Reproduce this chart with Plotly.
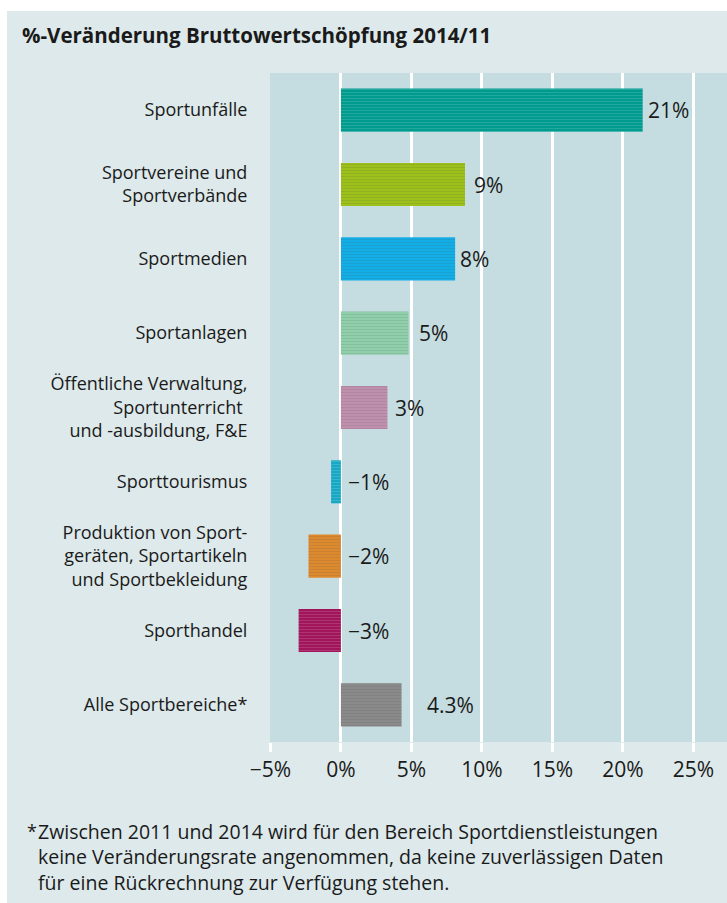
import plotly.graph_objects as go

categories = [
    "Sportunfälle",
    "Sportvereine und<br>Sportverbände",
    "Sportmedien",
    "Sportanlagen",
    "Öffentliche Verwaltung,<br>Sportunterricht <br>und -ausbildung, F&E",
    "Sporttourismus",
    "Produktion von Sport-<br>geräten, Sportartikeln<br>und Sportbekleidung",
    "Sporthandel",
    "Alle Sportbereiche*",
]
values = [21.4, 8.8, 8.1, 4.8, 3.3, -0.7, -2.3, -3.0, 4.3]
value_labels = ["21%", "9%", "8%", "5%", "3%", "\u22121%", "\u22122%", "\u22123%", "4.3%"]
colors = ["#009b8f", "#9dc11a", "#14aee6", "#8fd0ab", "#bf8fae",
          "#17a8c4", "#dd8a2e", "#a1155c", "#8a8a8a"]
tick_vals = [-5, 0, 5, 10, 15, 20, 25]
tick_text = ["\u22125%", "0%", "5%", "10%", "15%", "20%", "25%"]
title_text = "<b>%-Veränderung Bruttowertschöpfung 2014/11</b>"
footnote_lines = [
    "Zwischen 2011 und 2014 wird für den Bereich Sportdienstleistungen",
    "keine Veränderungsrate angenommen, da keine zuverlässigen Daten",
    "für eine Rückrechnung zur Verfügung stehen.",
]

W, H = 727, 903
L, R, T, B = 270, 0, 73, 161
PANEL = "#dde9ea"
PLOTBG = "#c5dde0"
FONT = "Open Sans, Noto Sans, sans-serif"
label_shift = [3, 7, 3, 8, 6, 5, 5, 5, 23]

pw = W - L - R
ph = H - T - B


def px_x(px):
    return (px - L) / pw


def px_y(py):
    return (H - B - py) / ph


fig = go.Figure()
fig.add_trace(go.Bar(
    x=values,
    y=categories,
    orientation="h",
    marker=dict(
        color=colors,
        line=dict(width=0),
        pattern=dict(shape="-", fillmode="overlay", fgcolor="white",
                     fgopacity=0.15, size=3, solidity=0.3),
    ),
    width=0.58,
    hoverinfo="skip",
))

annotations = []
for v, lab, sh, cat in zip(values, value_labels, label_shift, categories):
    annotations.append(dict(
        x=max(v, 0), y=cat, xref="x", yref="y", text=lab, showarrow=False,
        xanchor="left", yanchor="middle", xshift=sh,
        font=dict(family=FONT, size=21, color="#1a1a1a"),
    ))

annotations.append(dict(
    x=px_x(25), y=px_y(831), xref="paper", yref="paper", text="*",
    showarrow=False, xanchor="left", yanchor="middle",
    font=dict(family=FONT, size=18, color="#1a1a1a"),
))
for i, line in enumerate(footnote_lines):
    annotations.append(dict(
        x=px_x(36), y=px_y(831 + 25.5 * i), xref="paper", yref="paper",
        text=line, showarrow=False, xanchor="left", yanchor="middle",
        font=dict(family=FONT, size=19.5, color="#1a1a1a"),
    ))

shapes = [
    dict(type="rect", xref="paper", yref="paper", x0=px_x(0), x1=px_x(W),
         y0=px_y(11), y1=px_y(0), fillcolor="white", line=dict(width=0)),
    dict(type="rect", xref="paper", yref="paper", x0=px_x(0), x1=px_x(7),
         y0=px_y(H), y1=px_y(0), fillcolor="white", line=dict(width=0)),
]

fig.update_layout(
    width=W, height=H,
    margin=dict(l=L, r=R, t=T, b=B, pad=0),
    paper_bgcolor=PANEL,
    plot_bgcolor=PLOTBG,
    showlegend=False,
    bargap=0.42,
    title=dict(text=title_text, x=22 / W, y=1 - 36 / H, xref="container",
               yref="container", xanchor="left", yanchor="middle",
               font=dict(family=FONT, size=20.5, color="#1a1a1a")),
    xaxis=dict(
        range=[-5.03, 27.38], tickvals=tick_vals, ticktext=tick_text,
        showgrid=True, gridcolor="white", gridwidth=2.5,
        zeroline=True, zerolinecolor="white", zerolinewidth=2.5,
        ticks="outside", ticklen=9, tickwidth=2.5, tickcolor="white",
        tickfont=dict(family=FONT, size=21, color="#1a1a1a"),
        showline=False, fixedrange=True,
    ),
    yaxis=dict(
        categoryorder="array", categoryarray=categories, autorange="reversed",
        showgrid=False, zeroline=False, showline=False,
        ticks="outside", ticklen=18, tickcolor="rgba(0,0,0,0)",
        tickfont=dict(family=FONT, size=18, color="#1a1a1a"),
        fixedrange=True,
    ),
    annotations=annotations,
    shapes=shapes,
)

fig.write_html(
    "out.html",
    config={"displayModeBar": False},
    post_script="document.body.style.margin='0';document.documentElement.style.overflow='hidden';document.body.style.overflow='hidden';",
)
